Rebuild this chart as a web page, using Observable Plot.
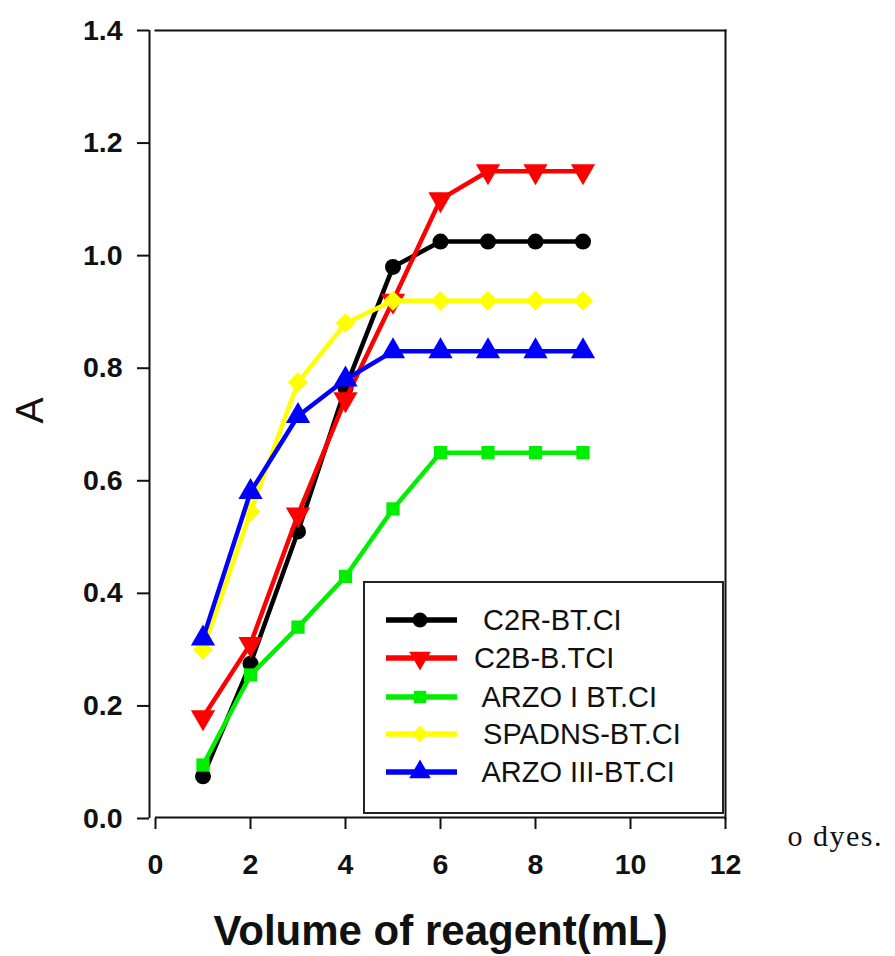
<!DOCTYPE html>
<html>
<head>
<meta charset="utf-8">
<script src="https://cdn.jsdelivr.net/npm/d3@7"></script>
<script src="https://cdn.jsdelivr.net/npm/@observablehq/plot@0.6"></script>
<style>
  html, body { margin: 0; padding: 0; background: #fff; }
  #chart svg { display: block; }
</style>
</head>
<body>
<div id="chart"></div>
<script>
// ---- data ----
const volumes = [1, 2, 3, 4, 5, 6, 7, 8, 9];
const c2r    = [0.075, 0.275, 0.51, 0.765, 0.98, 1.025, 1.025, 1.025, 1.025];
const c2b    = [0.18, 0.31, 0.54, 0.745, 0.92, 1.10, 1.15, 1.15, 1.15];
const arzo1  = [0.095, 0.255, 0.34, 0.43, 0.55, 0.65, 0.65, 0.65, 0.65];
const spadns = [0.30, 0.545, 0.775, 0.88, 0.92, 0.92, 0.92, 0.92, 0.92];
const arzo3  = [0.32, 0.58, 0.715, 0.78, 0.83, 0.83, 0.83, 0.83, 0.83];

const seriesNames  = [" C2R-BT.CI", "C2B-B.TCI", " ARZO I BT.CI", " SPADNS-BT.CI", " ARZO III-BT.CI"];
const seriesColors = ["#000000", "#ff0000", "#00ee00", "#ffff00", "#0000ff"];
const seriesSymbols = ["circle", "triangle", "square", "diamond2", "triangle"];
const seriesRotate = [0, 180, 0, 0, 0];
const seriesValues = [c2r, c2b, arzo1, spadns, arzo3];

const xTicks = [0, 2, 4, 6, 8, 10, 12];
const yTicks = [0, 0.2, 0.4, 0.6, 0.8, 1.0, 1.2, 1.4];
const xLabel = "Volume of reagent(mL)";
const yLabel = "A";
const strayText = "o dyes.";

const FONT = "Liberation Sans, Arial, sans-serif";
const symR = {circle: 8, triangle: 9, square: 7.5, diamond2: 9};

const series = seriesNames.map((name, i) => ({
  name, color: seriesColors[i], symbol: seriesSymbols[i], rotate: seriesRotate[i],
  rows: volumes.map((v, j) => ({x: v, y: seriesValues[i][j]}))
}));

const marks = [
  Plot.frame({anchor: "top", stroke: "#111", strokeWidth: 2}),
  Plot.frame({anchor: "right", stroke: "#111", strokeWidth: 2}),
  Plot.ruleY([0], {stroke: "#111", strokeWidth: 2, dy: -1}),
  Plot.ruleX([0], {stroke: "#111", strokeWidth: 2, dx: -6}),
  Plot.axisY({ticks: yTicks, tickSize: 12, tickPadding: 15, dx: -6, stroke: "#111", strokeWidth: 2,
    tickFormat: d => d.toFixed(1), fontSize: 28.5, fontWeight: "bold", fontFamily: FONT, fill: "#111", label: null}),
  Plot.axisX({ticks: xTicks, tickSize: 11, tickPadding: 24, stroke: "#111", strokeWidth: 2,
    tickFormat: d => String(d), fontSize: 28.5, fontWeight: "bold", fontFamily: FONT, fill: "#111", label: null})
];

for (const s of series) {
  marks.push(Plot.line(s.rows, {x: "x", y: "y", stroke: s.color, strokeWidth: 4.5, strokeLinejoin: "round"}));
  marks.push(Plot.dot(s.rows, {x: "x", y: "y", symbol: () => s.symbol, fill: s.color, stroke: "none",
    r: symR[s.symbol], rotate: s.rotate}));
}

marks.push(
  Plot.text([xLabel], {frameAnchor: "bottom", dy: 113, fontSize: 42, fontWeight: "bold", fontFamily: FONT, fill: "#111", lineAnchor: "middle"}),
  Plot.text([yLabel], {frameAnchor: "left", dx: -125, dy: -1, rotate: -90, fontSize: 39, fontFamily: FONT, fill: "#111", lineAnchor: "middle"}),
  Plot.text([strayText], {frameAnchor: "bottom-right", dx: 62, dy: 18, textAnchor: "start", fontSize: 30,
    fontFamily: "Liberation Serif, Times New Roman, serif", fill: "#111", lineAnchor: "middle"})
);

const plot = Plot.plot({
  width: 895,
  height: 956,
  marginLeft: 155,
  marginRight: 170,
  marginTop: 30,
  marginBottom: 138,
  x: {domain: [0, 12]},
  y: {domain: [0, 1.4]},
  style: {background: "#fff", overflow: "visible"},
  marks
});

document.getElementById("chart").appendChild(plot);

// letter spacing of the stray caption text
d3.select(plot).selectAll("text").filter(function() { return this.textContent === strayText; })
  .style("letter-spacing", "1.5px");

// ---- legend box (inside the plot frame, lower right) ----
const svg = d3.select(plot);
const lg = svg.append("g").attr("class", "legend").attr("text-anchor", "start");
const box = {x: 364, y: 582, w: 359, h: 231};
lg.append("rect").attr("x", box.x).attr("y", box.y).attr("width", box.w).attr("height", box.h)
  .attr("fill", "#fff").attr("stroke", "#222").attr("stroke-width", 2);
const rowY = [620, 658, 697, 734, 772];
const symMap = {circle: d3.symbolCircle, triangle: d3.symbolTriangle, square: d3.symbolSquare, diamond2: d3.symbolDiamond2};
series.forEach((s, i) => {
  const y = rowY[i];
  lg.append("line").attr("x1", 386).attr("x2", 457).attr("y1", y).attr("y2", y)
    .attr("stroke", s.color).attr("stroke-width", 5.5);
  const r = s.symbol === "square" ? 7 : s.symbol === "triangle" ? 8 : 7.5;
  lg.append("path").attr("d", d3.symbol(symMap[s.symbol], Math.PI * r * r)())
    .attr("transform", `translate(420,${y}) rotate(${s.rotate})`).attr("fill", s.color);
  lg.append("text").attr("x", i === 1 ? 474 : 475).attr("y", y).attr("dy", "0.35em")
    .attr("text-anchor", "start")
    .attr("font-family", FONT).attr("font-size", 29).attr("fill", "#111")
    .style("white-space", "pre").attr("xml:space", "preserve").text(s.name);
});
</script>
</body>
</html>
